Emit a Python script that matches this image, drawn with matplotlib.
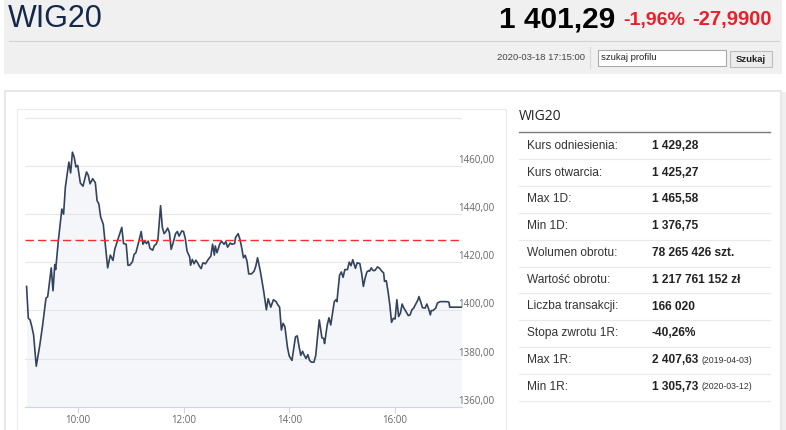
import matplotlib
matplotlib.use('Agg')
import matplotlib.pyplot as plt
from matplotlib.patches import Rectangle

W, H = 786, 430

# WIG20 intraday, 2020-03-18
times = ['09:02', '09:04', '09:06', '09:08', '09:10', '09:13', '09:17', '09:20', '09:24', '09:26',
         '09:30', '09:32', '09:34', '09:35', '09:38', '09:42', '09:44', '09:46', '09:50', '09:52',
         '09:54', '09:56', '09:58', '10:00', '10:03', '10:06', '10:10', '10:12', '10:14', '10:17',
         '10:20', '10:22', '10:24', '10:26', '10:29', '10:34', '10:37', '10:40', '10:42', '10:50',
         '10:52', '10:55', '10:57', '10:59', '11:02', '11:04', '11:06', '11:09', '11:12', '11:14',
         '11:16', '11:18', '11:20', '11:22', '11:25', '11:27', '11:29', '11:31', '11:34', '11:36',
         '11:38', '11:40', '11:42', '11:44', '11:46', '11:48', '11:51', '11:53', '11:55', '11:58',
         '12:00', '12:02', '12:04', '12:07', '12:08', '12:10', '12:12', '12:14', '12:16', '12:18',
         '12:20', '12:22', '12:25', '12:28', '12:31', '12:33', '12:35', '12:36', '12:38', '12:41',
         '12:43', '12:46', '12:48', '12:50', '12:53', '12:55', '12:58', '12:59', '13:02', '13:04',
         '13:06', '13:08', '13:10', '13:12', '13:14', '13:17', '13:20', '13:22', '13:24', '13:26',
         '13:27', '13:30', '13:31', '13:34', '13:36', '13:39', '13:42', '13:45', '13:47', '13:49',
         '13:51', '13:53', '13:55', '13:58', '14:00', '14:03', '14:05', '14:07', '14:09', '14:11',
         '14:13', '14:15', '14:17', '14:19', '14:21', '14:23', '14:25', '14:28', '14:30', '14:32',
         '14:34', '14:37', '14:39', '14:40', '14:43', '14:45', '14:47', '14:51', '14:53', '14:54',
         '14:57', '14:59', '15:01', '15:03', '15:06', '15:08', '15:10', '15:12', '15:15', '15:17',
         '15:20', '15:22', '15:24', '15:26', '15:28', '15:30', '15:31', '15:33', '15:35', '15:37',
         '15:40', '15:42', '15:45', '15:47', '15:48', '15:50', '15:52', '15:54', '15:56', '15:58',
         '16:00', '16:02', '16:04', '16:06', '16:08', '16:10', '16:12', '16:15', '16:17', '16:19',
         '16:21', '16:24', '16:26', '16:27', '16:29', '16:31', '16:34', '16:36', '16:38', '16:40',
         '16:41', '16:43', '16:46', '16:48', '16:51', '16:55', '16:58', '17:01', '17:02', '17:15']
prices = [1409.9, 1396.7, 1396.0, 1393.2, 1389.7, 1376.8, 1385.5, 1393.2, 1405.0, 1405.7,
          1417.6, 1408.1, 1419.0, 1416.9, 1428.7, 1442.0, 1439.9, 1451.1, 1461.5, 1457.0,
          1465.6, 1463.6, 1459.5, 1460.1, 1452.8, 1451.5, 1457.4, 1456.0, 1452.5, 1454.6,
          1452.9, 1445.5, 1444.1, 1438.8, 1435.7, 1417.6, 1422.9, 1420.7, 1425.3, 1434.4,
          1427.7, 1427.4, 1418.7, 1418.7, 1420.1, 1423.2, 1423.9, 1428.1, 1432.7, 1427.4,
          1428.7, 1427.7, 1428.7, 1425.7, 1424.9, 1426.9, 1427.4, 1429.5, 1443.4, 1434.4,
          1431.8, 1432.7, 1434.1, 1432.3, 1425.3, 1427.7, 1431.8, 1432.7, 1430.8, 1432.9,
          1432.7, 1429.9, 1424.6, 1422.1, 1418.7, 1421.1, 1419.3, 1420.8, 1419.7, 1418.3,
          1417.3, 1419.7, 1419.3, 1421.1, 1422.5, 1427.4, 1422.9, 1426.7, 1423.9, 1427.4,
          1428.7, 1427.4, 1428.5, 1426.2, 1427.9, 1427.4, 1427.7, 1430.2, 1431.8, 1429.5,
          1426.0, 1421.8, 1422.8, 1420.4, 1415.1, 1415.1, 1416.2, 1418.3, 1421.8, 1418.3,
          1416.5, 1409.9, 1407.8, 1400.2, 1404.8, 1401.3, 1404.4, 1403.6, 1402.3, 1401.3,
          1391.8, 1394.6, 1393.2, 1384.4, 1381.0, 1379.2, 1384.1, 1389.0, 1389.4, 1385.1,
          1381.3, 1383.0, 1381.3, 1380.0, 1381.6, 1379.2, 1378.5, 1378.5, 1381.3, 1389.0,
          1396.0, 1388.6, 1388.3, 1386.2, 1393.9, 1396.9, 1393.9, 1403.6, 1404.4, 1403.6,
          1414.5, 1415.9, 1413.7, 1416.9, 1416.9, 1420.0, 1418.5, 1421.0, 1417.4, 1419.7,
          1419.4, 1415.5, 1409.9, 1413.4, 1415.9, 1416.5, 1416.2, 1417.6, 1416.5, 1416.5,
          1418.0, 1417.6, 1416.2, 1415.5, 1412.0, 1412.3, 1407.8, 1402.3, 1395.0, 1396.7,
          1396.4, 1404.4, 1397.4, 1398.8, 1402.6, 1400.9, 1399.7, 1397.8, 1398.1, 1400.2,
          1400.9, 1403.0, 1404.4, 1405.7, 1403.6, 1401.1, 1400.9, 1402.6, 1400.6, 1398.1,
          1399.9, 1399.9, 1400.9, 1403.0, 1403.6, 1403.6, 1403.6, 1403.4, 1401.3, 1401.3]

ref_price = 1429.28
y_ticks = [1360, 1380, 1400, 1420, 1440, 1460, 1480]
x_ticks = ['10:00', '12:00', '14:00', '16:00']

stat_labels = ['Kurs odniesienia:', 'Kurs otwarcia:', 'Max 1D:', 'Min 1D:', 'Wolumen obrotu:',
               'Wartość obrotu:', 'Liczba transakcji:', 'Stopa zwrotu 1R:', 'Max 1R:', 'Min 1R:']
stat_values = ['1 429,28', '1 425,27', '1 465,58', '1 376,75', '78 265 426 szt.',
               '1 217 761 152 zł', '166 020', '-40,26%', '2 407,63', '1 305,73']
stat_notes = ['', '', '', '', '', '', '', '', '(2019-04-03)', '(2020-03-12)']

index_name = 'WIG20'
last_price = '1 401,29'
change_pct = '-1,96%'
change_abs = '-27,9900'
timestamp = '2020-03-18 17:15:00'


def minutes(hhmm):
    h, m = hhmm.split(':')
    return (int(h) - 9) * 60 + int(m)


ARIAL = ['Liberation Sans', 'DejaVu Sans']
OPEN = ['Open Sans', 'DejaVu Sans']

fig = plt.figure(figsize=(W / 100, H / 100), dpi=100)
fig.patch.set_facecolor('white')

# page / header drawn in pixel coordinates
bg = fig.add_axes([0, 0, 1, 1])
bg.set_xlim(0, W)
bg.set_ylim(H, 0)
bg.axis('off')

bg.add_patch(Rectangle((4, 0), 778, 74, fc='#f0f0f0', ec='none'))
bg.plot([9, 779], [41, 41], color='#d2d2d2', lw=0.8)
bg.text(8, 19, index_name, family=ARIAL, fontsize=22, color='#14284a', va='center')
bg.text(772, 20, change_abs, family=ARIAL, fontsize=14.5, weight='bold',
        color='#e8202a', va='center', ha='right')
bg.text(685, 20, change_pct, family=ARIAL, fontsize=14, weight='bold',
        color='#e8202a', va='center', ha='right')
bg.text(615, 19, last_price, family=ARIAL, fontsize=21.5, weight='bold',
        color='#000000', va='center', ha='right')

bg.text(585, 58, timestamp, family=ARIAL, fontsize=6.8, color='#444444', va='center', ha='right')
bg.plot([590, 590], [47, 68], color='#d8d8d8', lw=0.8)
bg.add_patch(Rectangle((598, 50), 128, 16, fc='white', ec='#a9a9a9', lw=0.8))
bg.text(601, 58, 'szukaj profilu', family=ARIAL, fontsize=6.8, color='#222222', va='center')
bg.add_patch(Rectangle((730, 51), 42, 16, fc='#ececec', ec='#bdbdbd', lw=0.8))
bg.text(751, 59, 'Szukaj', family=ARIAL, fontsize=6.8, weight='bold', color='#222222',
        va='center', ha='center')

# main panel and chart container
bg.add_patch(Rectangle((5, 91), 776, 350, fc='white', ec='#e4e4e4', lw=1.2))
bg.add_patch(Rectangle((781.5, 92), 5, 340, fc='#f0f0f0', ec='none'))
bg.add_patch(Rectangle((17, 109), 489, 340, fc='white', ec='#ebebeb', lw=0.8))

# stats table
bg.text(519, 117, index_name, family=OPEN, fontsize=10, color='#222222', va='center')
bg.plot([519, 770], [132.3, 132.3], color='#7a7a7a', lw=1.0)
row0, pitch = 145.7, 26.8
for i, (lab, val, note) in enumerate(zip(stat_labels, stat_values, stat_notes)):
    yc = row0 + i * pitch
    bg.text(527, yc, lab, family=ARIAL, fontsize=8.6, color='#333333', va='center')
    tv = bg.text(652, yc, val, family=ARIAL, fontsize=8.6, weight='bold', color='#222222',
                 va='center')
    if note:
        bg.annotate(note, xy=(1, 0.5), xycoords=tv, xytext=(2, 0), textcoords='offset points',
                    family=ARIAL, fontsize=6.3, color='#333333', va='center')
    bg.plot([519, 770], [yc + 13.6, yc + 13.6], color='#e9e9e9', lw=0.8)

# chart
left, right, top, bottom = 24.8, 462, 117.5, 406.7
ax = fig.add_axes([left / W, (H - bottom) / H, (right - left) / W, (bottom - top) / H])
ax.set_facecolor('none')

t = [minutes(s) for s in times]
ax.fill_between(t, prices, y_ticks[0], color='#f4f6f9', lw=0, zorder=1)
ax.plot(t, prices, color='#34435d', lw=1.2, zorder=3)
ax.axhline(ref_price, color='#ff2b2b', lw=1.0, dashes=(6, 3), zorder=4)

ax.set_xlim(0, (right - left) / 52.9 * 60)
ax.set_ylim(y_ticks[0], y_ticks[-1])
ax.set_yticks(y_ticks)
ax.grid(axis='y', color='#e6e6e6', lw=0.8, zorder=0)
ax.tick_params(axis='y', length=0, labelleft=False)
for sp in ['top', 'left', 'right']:
    ax.spines[sp].set_visible(False)
ax.spines['bottom'].set_color('#ccd6eb')
ax.spines['bottom'].set_linewidth(0.8)

ax.set_xticks([minutes(s) for s in x_ticks])
ax.set_xticklabels(x_ticks, family=OPEN, fontsize=7, color='#666666')
ax.tick_params(axis='x', length=4, width=0.8, color='#ccd6eb', pad=2)

for v in y_ticks[:-1]:
    ax.annotate(f'{v},00', xy=(1, v), xycoords=('axes fraction', 'data'),
                xytext=(-4, 0), textcoords='offset pixels', family=OPEN, fontsize=7,
                color='#666666', va='bottom', ha='left', annotation_clip=False)

fig.savefig('out.png', dpi=100)
